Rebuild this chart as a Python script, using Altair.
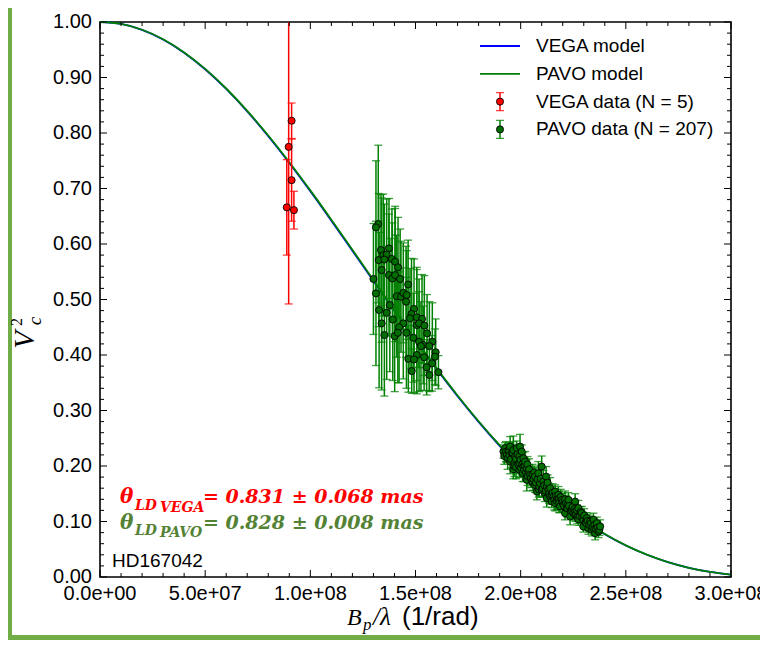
import altair as alt
import pandas as pd

# ---------------- data (spatial frequency in units of 1e8 rad^-1) ----------------
MODEL_FREQ = [0.0, 0.1, 0.2, 0.3, 0.4, 0.5, 0.6, 0.7, 0.8, 0.9, 1.0, 1.1, 1.2, 1.3, 1.4, 1.5,
              1.6, 1.7, 1.8, 1.9, 2.0, 2.1, 2.2, 2.3, 2.4, 2.5, 2.6, 2.7, 2.8, 2.9, 3.0]
PAVO_MODEL_V2 = [1.0, 0.99650, 0.98605, 0.96885, 0.94518, 0.91546, 0.88020, 0.83998, 0.79548,
                 0.74742, 0.69657, 0.64370, 0.58965, 0.53515, 0.48097, 0.42781, 0.37635, 0.32714,
                 0.28071, 0.23747, 0.19776, 0.16179, 0.12972, 0.10160, 0.07739, 0.05700, 0.04025,
                 0.02689, 0.01665, 0.00920, 0.00419]
VEGA_MODEL_V2 = [1.0, 0.99647, 0.98595, 0.96862, 0.94478, 0.91486, 0.87939, 0.83895, 0.79423,
                 0.74597, 0.69495, 0.64196, 0.58782, 0.53333, 0.47921, 0.42612, 0.37478, 0.32573,
                 0.27947, 0.23641, 0.19689, 0.16111, 0.12919, 0.10121, 0.07710, 0.05678, 0.04010,
                 0.02679, 0.01658, 0.00915, 0.00415]

VEGA_FREQ = [0.911, 0.897, 0.911, 0.888, 0.922]
VEGA_V2 = [0.822, 0.775, 0.715, 0.666, 0.661]
VEGA_ERR = [0.032, 0.283, 0.074, 0.086, 0.034]

# (freq, V2, err) — short-baseline PAVO group
PAVO_GROUP1 = [
    (1.323, 0.636, 0.142), (1.312, 0.630, 0.120), (1.336, 0.589, 0.100), (1.374, 0.592, 0.090),
    (1.347, 0.580, 0.110), (1.363, 0.581, 0.100), (1.325, 0.571, 0.120), (1.352, 0.572, 0.100),
    (1.388, 0.573, 0.090), (1.403, 0.568, 0.100), (1.417, 0.558, 0.090), (1.339, 0.553, 0.130),
    (1.374, 0.544, 0.110), (1.390, 0.538, 0.100), (1.403, 0.544, 0.120), (1.427, 0.537, 0.090),
    (1.300, 0.537, 0.100), (1.465, 0.527, 0.080), (1.312, 0.511, 0.130), (1.411, 0.506, 0.110),
    (1.431, 0.505, 0.100), (1.442, 0.512, 0.090), (1.455, 0.496, 0.100), (1.458, 0.508, 0.080),
    (1.493, 0.483, 0.090), (1.378, 0.490, 0.120), (1.327, 0.481, 0.140), (1.363, 0.476, 0.120),
    (1.481, 0.474, 0.100), (1.506, 0.468, 0.090), (1.531, 0.465, 0.080), (1.392, 0.464, 0.110),
    (1.442, 0.457, 0.100), (1.474, 0.466, 0.090), (1.339, 0.457, 0.120), (1.506, 0.454, 0.100),
    (1.517, 0.457, 0.080), (1.542, 0.453, 0.090), (1.422, 0.450, 0.100), (1.352, 0.436, 0.110),
    (1.401, 0.434, 0.100), (1.416, 0.440, 0.090), (1.457, 0.440, 0.100), (1.555, 0.439, 0.070),
    (1.490, 0.431, 0.080), (1.517, 0.424, 0.090), (1.537, 0.418, 0.070), (1.526, 0.416, 0.080),
    (1.580, 0.424, 0.070), (1.566, 0.416, 0.080), (1.506, 0.400, 0.070), (1.466, 0.393, 0.060),
    (1.493, 0.392, 0.060), (1.541, 0.396, 0.060), (1.596, 0.405, 0.060), (1.593, 0.397, 0.050),
    (1.579, 0.385, 0.050), (1.553, 0.378, 0.050), (1.482, 0.371, 0.040), (1.566, 0.364, 0.030),
    (1.609, 0.369, 0.030),
]
# (freq, V2, err) — long-baseline PAVO group
PAVO_GROUP2 = [
    (1.918, 0.226, 0.012), (1.922, 0.218, 0.015), (1.926, 0.232, 0.010), (1.930, 0.226, 0.018),
    (1.934, 0.220, 0.014), (1.938, 0.214, 0.020), (1.942, 0.228, 0.012), (1.945, 0.226, 0.016),
    (1.946, 0.219, 0.013), (1.950, 0.235, 0.018), (1.950, 0.208, 0.022), (1.954, 0.212, 0.015),
    (1.958, 0.223, 0.011), (1.961, 0.224, 0.020), (1.965, 0.229, 0.025), (1.965, 0.194, 0.017),
    (1.969, 0.205, 0.014), (1.970, 0.200, 0.019), (1.973, 0.217, 0.012), (1.977, 0.213, 0.016),
    (1.978, 0.198, 0.021), (1.981, 0.232, 0.013), (1.985, 0.221, 0.018), (1.989, 0.203, 0.012),
    (1.994, 0.218, 0.015), (1.994, 0.206, 0.020), (1.994, 0.193, 0.013), (1.997, 0.235, 0.022),
    (1.999, 0.211, 0.014), (2.002, 0.196, 0.017), (2.005, 0.226, 0.012), (2.008, 0.203, 0.019),
    (2.010, 0.187, 0.015), (2.013, 0.214, 0.011), (2.013, 0.199, 0.016), (2.016, 0.193, 0.021),
    (2.019, 0.201, 0.013), (2.021, 0.208, 0.018), (2.025, 0.188, 0.012), (2.029, 0.196, 0.015),
    (2.029, 0.175, 0.020), (2.032, 0.203, 0.014), (2.033, 0.182, 0.017), (2.037, 0.190, 0.012),
    (2.040, 0.194, 0.019), (2.045, 0.184, 0.013), (2.048, 0.178, 0.016), (2.053, 0.172, 0.011),
    (2.056, 0.185, 0.018), (2.058, 0.170, 0.014), (2.061, 0.176, 0.020), (2.065, 0.188, 0.012),
    (2.068, 0.181, 0.016), (2.068, 0.166, 0.013), (2.072, 0.170, 0.018), (2.077, 0.154, 0.015),
    (2.080, 0.176, 0.012), (2.084, 0.187, 0.021), (2.086, 0.158, 0.014), (2.088, 0.163, 0.017),
    (2.092, 0.169, 0.012), (2.095, 0.177, 0.015), (2.100, 0.199, 0.019), (2.100, 0.157, 0.013),
    (2.104, 0.160, 0.016), (2.108, 0.172, 0.020), (2.112, 0.165, 0.012), (2.116, 0.151, 0.015),
    (2.119, 0.155, 0.011), (2.121, 0.181, 0.018), (2.124, 0.163, 0.013), (2.124, 0.142, 0.016),
    (2.128, 0.170, 0.014), (2.132, 0.157, 0.012), (2.135, 0.150, 0.017), (2.138, 0.146, 0.013),
    (2.140, 0.160, 0.019), (2.145, 0.143, 0.012), (2.148, 0.148, 0.015), (2.148, 0.136, 0.011),
    (2.152, 0.152, 0.016), (2.157, 0.145, 0.013), (2.160, 0.139, 0.018), (2.164, 0.154, 0.012),
    (2.164, 0.133, 0.014), (2.168, 0.146, 0.011), (2.172, 0.137, 0.016), (2.176, 0.142, 0.012),
    (2.179, 0.148, 0.015), (2.182, 0.141, 0.013), (2.183, 0.133, 0.017), (2.187, 0.127, 0.011),
    (2.190, 0.144, 0.014), (2.195, 0.139, 0.012), (2.199, 0.135, 0.016), (2.203, 0.130, 0.013),
    (2.206, 0.128, 0.011), (2.211, 0.140, 0.015), (2.211, 0.115, 0.012), (2.215, 0.133, 0.014),
    (2.219, 0.124, 0.011), (2.222, 0.124, 0.016), (2.224, 0.131, 0.012), (2.227, 0.139, 0.013),
    (2.230, 0.128, 0.011), (2.235, 0.109, 0.015), (2.238, 0.119, 0.012), (2.243, 0.121, 0.014),
    (2.246, 0.126, 0.011), (2.250, 0.116, 0.013), (2.255, 0.122, 0.010), (2.259, 0.136, 0.014),
    (2.259, 0.118, 0.012), (2.259, 0.112, 0.011), (2.263, 0.113, 0.013), (2.268, 0.120, 0.010),
    (2.270, 0.108, 0.012), (2.274, 0.124, 0.014), (2.274, 0.104, 0.011), (2.280, 0.110, 0.013),
    (2.285, 0.117, 0.010), (2.290, 0.115, 0.012), (2.293, 0.107, 0.011), (2.298, 0.103, 0.013),
    (2.298, 0.091, 0.010), (2.302, 0.111, 0.012), (2.308, 0.098, 0.011), (2.312, 0.097, 0.013),
    (2.314, 0.106, 0.010), (2.318, 0.101, 0.012), (2.322, 0.088, 0.011), (2.326, 0.094, 0.013),
    (2.330, 0.100, 0.010), (2.334, 0.097, 0.012), (2.338, 0.085, 0.011), (2.342, 0.090, 0.010),
    (2.346, 0.103, 0.012), (2.350, 0.094, 0.011), (2.350, 0.086, 0.010), (2.354, 0.079, 0.012),
    (2.358, 0.086, 0.010), (2.362, 0.097, 0.011), (2.366, 0.089, 0.010), (2.370, 0.082, 0.011),
    (2.374, 0.085, 0.010), (2.378, 0.091, 0.012),
]

X_MAJOR = [0.0, 0.5, 1.0, 1.5, 2.0, 2.5, 3.0]
Y_MAJOR = [0.0, 0.1, 0.2, 0.3, 0.4, 0.5, 0.6, 0.7, 0.8, 0.9, 1.0]
X_MINOR = [k / 10 for k in range(31) if k % 5]
Y_MINOR = [k / 50 for k in range(51) if k % 5]

LEGEND_LABELS = ["VEGA model", "PAVO model", "VEGA data (N = 5)", "PAVO data (N = 207)"]
LEGEND_COLORS = ["#0000ff", "#008000", "#ff0000", "#008000"]
LEGEND_FILLS = ["#0000ff", "#008000", "#ff0000", "#006e00"]

# ---------------- layout ----------------
W, H = 631, 555
PAD = {"left": 92, "top": 14, "right": 29, "bottom": 63}   # total 752 x 632
XS = alt.Scale(domain=[0, 3e8], nice=False, zero=False)
YS = alt.Scale(domain=[0, 1], nice=False, zero=False)
RED, GREEN, BLUE = "#ff0000", "#008000", "#0000ff"
TXT_GREEN = "#548235"
FRAME_GREEN = "#70ad47"
SANS = "Liberation Sans"
SERIF = "Liberation Serif"
MATH = "DejaVu Serif"

ONE = pd.DataFrame({"k": [0]})

model_df = pd.DataFrame({"f": [v * 1e8 for v in MODEL_FREQ],
                         "pavo": PAVO_MODEL_V2, "vega": VEGA_MODEL_V2})
vega_df = pd.DataFrame({"f": [v * 1e8 for v in VEGA_FREQ], "v": VEGA_V2,
                        "lo": [a - b for a, b in zip(VEGA_V2, VEGA_ERR)],
                        "hi": [a + b for a, b in zip(VEGA_V2, VEGA_ERR)]})
pavo_rows = PAVO_GROUP1 + PAVO_GROUP2
pavo_df = pd.DataFrame({"f": [r[0] * 1e8 for r in pavo_rows], "v": [r[1] for r in pavo_rows],
                        "lo": [r[1] - r[2] for r in pavo_rows],
                        "hi": [r[1] + r[2] for r in pavo_rows]})

xenc = alt.X("f:Q", scale=XS, axis=None)


def frame_rect(x1, x2, y1, y2):
    return alt.Chart(ONE).mark_rect(color=FRAME_GREEN).encode(
        x=alt.value(x1), x2=alt.value(x2), y=alt.value(y1), y2=alt.value(y2))


def errorbars(df, color):
    bars = alt.Chart(df).mark_rule(color=color, strokeWidth=1.5, clip=True).encode(
        x=xenc, y=alt.Y("lo:Q", scale=YS, axis=None), y2="hi:Q")
    caps_lo = alt.Chart(df).mark_tick(orient="horizontal", color=color, size=8, thickness=1.3,
                                      opacity=0.75, clip=True).encode(
        x=xenc, y=alt.Y("lo:Q", scale=YS, axis=None))
    caps_hi = alt.Chart(df).mark_tick(orient="horizontal", color=color, size=8, thickness=1.3,
                                      opacity=0.75, clip=True).encode(
        x=xenc, y=alt.Y("hi:Q", scale=YS, axis=None))
    return [bars, caps_lo, caps_hi]


def dots(df, fill):
    return alt.Chart(df).mark_point(shape="circle", filled=True, fill=fill, stroke="black",
                                    strokeWidth=0.9, size=50, opacity=1).encode(
        x=xenc, y=alt.Y("v:Q", scale=YS, axis=None))


def label(txt, x, y, size, color="black", font=SANS, style="normal", weight="normal",
          angle=0, align="left", baseline="alphabetic"):
    return alt.Chart(ONE).mark_text(text=txt, font=font, fontSize=size, fontStyle=style,
                                    fontWeight=weight, color=color, angle=angle, align=align,
                                    baseline=baseline).encode(x=alt.value(x), y=alt.value(y))


def ticks_y(values, length):
    df = pd.DataFrame({"t": values})
    enc_y = alt.Y("t:Q", scale=YS, axis=None)
    left = alt.Chart(df).mark_rule(color="black", strokeWidth=1).encode(
        y=enc_y, x=alt.value(0), x2=alt.value(length))
    right = alt.Chart(df).mark_rule(color="black", strokeWidth=1).encode(
        y=enc_y, x=alt.value(W - length), x2=alt.value(W))
    return [left, right]


def ticks_x(values, length):
    df = pd.DataFrame({"t": [v * 1e8 for v in values]})
    enc_x = alt.X("t:Q", scale=XS, axis=None)
    bottom = alt.Chart(df).mark_rule(color="black", strokeWidth=1).encode(
        x=enc_x, y=alt.value(H - length), y2=alt.value(H))
    top = alt.Chart(df).mark_rule(color="black", strokeWidth=1).encode(
        x=enc_x, y=alt.value(0), y2=alt.value(length))
    return [bottom, top]


# tick labels
ylab = alt.Chart(pd.DataFrame({"t": Y_MAJOR})).transform_calculate(
    lab="format(datum.t, '.2f')").mark_text(
    align="right", baseline="middle", font=SANS, fontSize=20, color="black").encode(
    y=alt.Y("t:Q", scale=YS, axis=None), x=alt.value(-8), text="lab:N")
xlab = alt.Chart(pd.DataFrame({"t": [v * 1e8 for v in X_MAJOR]})).transform_calculate(
    lab="replace(format(datum.t, '.1e'), 'e+', 'e+0')").mark_text(
    align="center", baseline="top", font=SANS, fontSize=20, color="black").encode(
    x=alt.X("t:Q", scale=XS, axis=None), y=alt.value(H + 7), text="lab:N")

# model curves
line_vega = alt.Chart(model_df).mark_line(color=BLUE, strokeWidth=1.8, interpolate="monotone").encode(
    x=xenc, y=alt.Y("vega:Q", scale=YS, axis=None))
line_pavo = alt.Chart(model_df).mark_line(color=GREEN, strokeWidth=1.8, interpolate="monotone").encode(
    x=xenc, y=alt.Y("pavo:Q", scale=YS, axis=None))

# legend
leg_df = pd.DataFrame({"label": LEGEND_LABELS, "row": [0, 1, 2, 3],
                       "col": LEGEND_COLORS, "fill": LEGEND_FILLS})
leg_base = alt.Chart(leg_df).transform_calculate(
    ly="24 + 27.8 * datum.row", ly1="24 + 27.8 * datum.row - 9", ly2="24 + 27.8 * datum.row + 9")
leg_text = leg_base.mark_text(align="left", baseline="middle", font=SANS, fontSize=19,
                              color="black").encode(
    x=alt.value(436), y=alt.Y("ly:Q", scale=None), text="label:N")
leg_lines = leg_base.transform_filter("datum.row < 2").mark_rule(strokeWidth=1.8).encode(
    x=alt.value(380), x2=alt.value(420), y=alt.Y("ly:Q", scale=None),
    color=alt.Color("col:N", scale=None))
leg_err = leg_base.transform_filter("datum.row >= 2")
leg_bars = leg_err.mark_rule(strokeWidth=1.5).encode(
    x=alt.value(400), y=alt.Y("ly1:Q", scale=None), y2="ly2:Q",
    color=alt.Color("col:N", scale=None))
leg_cap1 = leg_err.mark_tick(orient="horizontal", size=8, thickness=1.3, opacity=0.75).encode(
    x=alt.value(400), y=alt.Y("ly1:Q", scale=None), color=alt.Color("col:N", scale=None))
leg_cap2 = leg_err.mark_tick(orient="horizontal", size=8, thickness=1.3, opacity=0.75).encode(
    x=alt.value(400), y=alt.Y("ly2:Q", scale=None), color=alt.Color("col:N", scale=None))
leg_dots = leg_err.mark_point(shape="circle", filled=True, stroke="black", strokeWidth=0.9,
                              size=50, opacity=1).encode(
    x=alt.value(400), y=alt.Y("ly:Q", scale=None), fill=alt.Fill("fill:N", scale=None))

layers = [
    frame_rect(-92, -88, -14, 618),
    frame_rect(-92, 660, 613, 618),
    line_vega, line_pavo,
]
layers += errorbars(vega_df, RED)
layers += errorbars(pavo_df, GREEN)
layers += [dots(vega_df, RED), dots(pavo_df, "#006e00")]
layers += ticks_y(Y_MAJOR, 7) + ticks_y(Y_MINOR, 4) + ticks_x(X_MAJOR, 7) + ticks_x(X_MINOR, 4)
layers += [ylab, xlab]
layers += [leg_lines, leg_bars, leg_cap1, leg_cap2, leg_dots, leg_text]

# annotations
layers += [
    label("θ", 20, 481, 20, RED, MATH, "italic", "bold"),
    label("LD", 35, 488, 14, RED, MATH, "italic", "bold"),
    label("VEGA", 60, 490, 14, RED, MATH, "italic", "bold"),
    label("= 0.831 ± 0.068 mas", 103, 481, 19, RED, MATH, "italic", "bold"),
    label("θ", 20, 507, 20, TXT_GREEN, MATH, "italic", "bold"),
    label("LD", 35, 513, 14, TXT_GREEN, MATH, "italic", "bold"),
    label("PAVO", 60, 515, 14, TXT_GREEN, MATH, "italic", "bold"),
    label("= 0.828 ± 0.008 mas", 103, 507, 19, TXT_GREEN, MATH, "italic", "bold"),
    label("HD167042", 12, 545, 19),
    # x title
    label("B", 247, 603, 24, font=SERIF, style="italic"),
    label("p", 263, 608, 17, font=SERIF, style="italic"),
    label("/λ", 273, 603, 25, font=SERIF, style="italic"),
    label("(1/rad)", 302, 603, 26),
    # y title
    label("V", -66, 318, 29, font=SERIF, style="italic", angle=270, align="center"),
    label("c", -59, 299, 19, font=SERIF, style="italic", angle=270, align="center"),
    label("2", -78, 300, 16, font=SERIF, angle=270, align="center"),
]

chart = alt.layer(*layers).properties(
    width=W, height=H,
    padding=PAD,
    autosize=alt.AutoSizeParams(type="none"),
    background="white",
).configure_view(stroke="black", strokeWidth=1.6)

chart.save("out.html", embed_options={"renderer": "svg", "actions": False})
